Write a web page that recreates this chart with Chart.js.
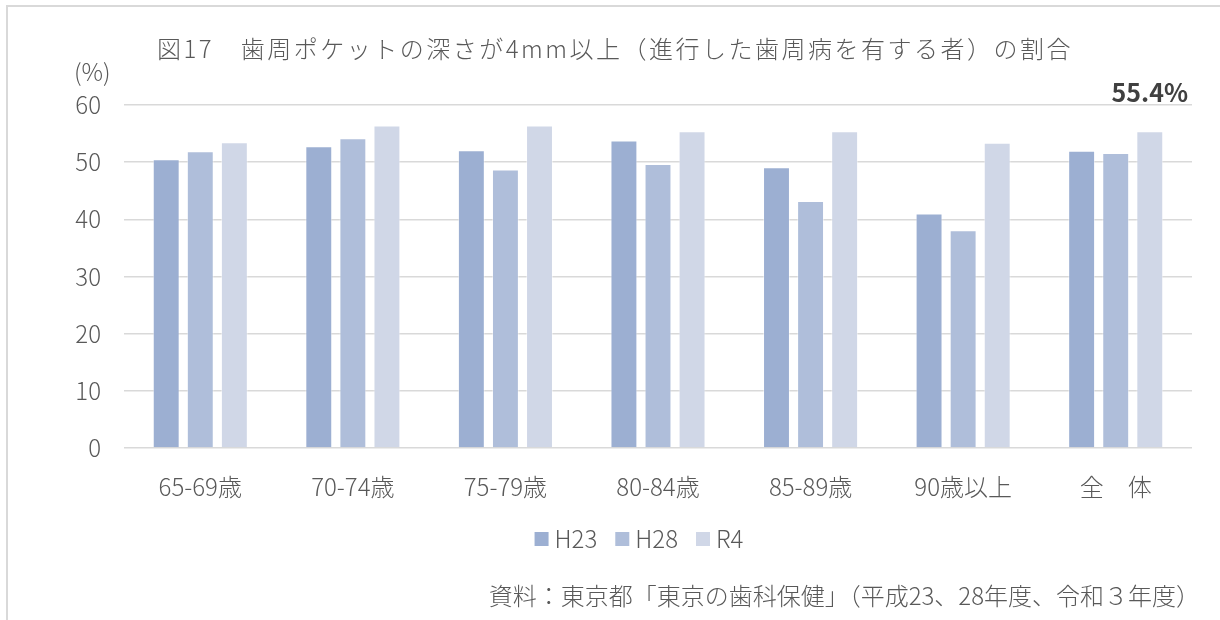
<!DOCTYPE html>
<html lang="ja">
<head>
<meta charset="utf-8">
<title>歯周ポケットの深さが4mm以上の割合</title>
<script src="https://cdn.jsdelivr.net/npm/chart.js@4.4.1/dist/chart.umd.min.js"></script>
<style>
    html, body { margin: 0; padding: 0; background: #ffffff; }
    #chartBox { width: 1220px; height: 620px; }
</style>
</head>
<body>
<div id="chartBox"><canvas id="pocketChart" width="1220" height="620"></canvas></div>
<script>
// age groups and survey years
var ageGroups = ['65-69歳', '70-74歳', '75-79歳', '80-84歳', '85-89歳', '90歳以上', '全　体'];
var seriesNames = ['H23', 'H28', 'R4'];

// percentages per survey
var h23Values = [50.5, 52.8, 52.1, 53.8, 49.1, 41.0, 52.0];
var h28Values = [51.9, 54.2, 48.7, 49.7, 43.2, 38.1, 51.6];
var r4Values = [53.5, 56.4, 56.4, 55.4, 55.4, 53.4, 55.4];

var yTicks = [0, 10, 20, 30, 40, 50, 60];

var chartTitle = '図17　歯周ポケットの深さが4mm以上（進行した歯周病を有する者）の割合';
var unitLabel = '(%)';
var sourceNote = '資料：東京都「東京の歯科保健」（平成23、28年度、令和３年度）';

var barColors = ['#9cafd2', '#afbeda', '#d0d7e7'];
var textGray = '#595959';
var fontFamily = '"Noto Sans CJK JP", "Noto Sans", sans-serif';

Chart.defaults.font.family = fontFamily;
Chart.defaults.font.weight = 300;
Chart.defaults.color = textGray;

// frame, title, unit, legend, source and the highlighted value
var decorPlugin = {
    id: 'decor',
    beforeDraw: function (chart) {
        var ctx = chart.ctx;
        ctx.save();
        ctx.fillStyle = '#ffffff';
        ctx.fillRect(0, 0, chart.width, chart.height);
        ctx.strokeStyle = '#d9d9d9';
        ctx.lineWidth = 2;
        ctx.beginPath();
        ctx.moveTo(7, chart.height);
        ctx.lineTo(7, 6);
        ctx.lineTo(chart.width, 6);
        ctx.stroke();
        ctx.restore();
    },
    afterDraw: function (chart) {
        var ctx = chart.ctx;
        ctx.save();
        ctx.fillStyle = textGray;
        ctx.textBaseline = 'middle';

        // title
        ctx.font = '300 24px ' + fontFamily;
        ctx.letterSpacing = '2.5px';
        ctx.textAlign = 'left';
        ctx.fillText(chartTitle, 157, 49);
        ctx.letterSpacing = '0px';

        // unit
        ctx.font = '300 24px ' + fontFamily;
        ctx.fillText(unitLabel, 74, 72);

        // legend
        var legendCenter = 639;
        var box = 14, gap = 6, itemGap = 18;
        var widths = seriesNames.map(function (n) { return ctx.measureText(n).width; });
        var total = 0;
        widths.forEach(function (w, i) {
            total += box + gap + w + (i < widths.length - 1 ? itemGap : 0);
        });
        var lx = legendCenter - total / 2;
        var ly = 539;
        chart.data.datasets.forEach(function (ds, i) {
            ctx.fillStyle = ds.backgroundColor;
            ctx.fillRect(lx, ly - box / 2, box, box);
            ctx.fillStyle = textGray;
            ctx.fillText(ds.label, lx + box + gap, ly);
            lx += box + gap + widths[i] + itemGap;
        });

        // source
        ctx.textAlign = 'right';
        ctx.fillText(sourceNote, 1200, 596);

        // value label above the overall R4 bar
        var last = r4Values.length - 1;
        var bar = chart.getDatasetMeta(2).data[last];
        ctx.font = 'bold 25px ' + fontFamily;
        ctx.fillStyle = '#404040';
        ctx.textAlign = 'center';
        ctx.fillText(r4Values[last].toFixed(1) + '%', bar.x, bar.y - 39);
        ctx.restore();
    }
};

var datasets = [h23Values, h28Values, r4Values].map(function (vals, i) {
    return {
        label: seriesNames[i],
        data: vals,
        backgroundColor: barColors[i],
        borderColor: 'rgba(255, 255, 255, 0.45)',
        borderWidth: 1,
        categoryPercentage: 0.67,
        barPercentage: 0.79
    };
});

var ctx = document.getElementById('pocketChart').getContext('2d');
var chart = new Chart(ctx, {
    type: 'bar',
    data: {
        labels: ageGroups,
        datasets: datasets
    },
    options: {
        responsive: false,
        animation: false,
        layout: {
            padding: { left: 0, right: 28, top: 105, bottom: 100 }
        },
        plugins: {
            legend: { display: false },
            tooltip: { enabled: false }
        },
        scales: {
            x: {
                grid: { display: false, drawTicks: false },
                border: { display: false },
                ticks: {
                    padding: 24,
                    color: textGray,
                    font: { size: 24 }
                },
                afterFit: function (scale) { scale.height = 72; }
            },
            y: {
                min: 0,
                max: 60,
                afterBuildTicks: function (scale) {
                    scale.ticks = yTicks.map(function (v) { return { value: v }; });
                },
                grid: {
                    color: '#d9d9d9',
                    lineWidth: 1.5,
                    drawTicks: false
                },
                border: { display: false },
                ticks: {
                    padding: 23,
                    color: textGray,
                    font: { size: 24 }
                },
                afterFit: function (scale) { scale.width = 124; }
            }
        }
    },
    plugins: [decorPlugin]
});
</script>
</body>
</html>
